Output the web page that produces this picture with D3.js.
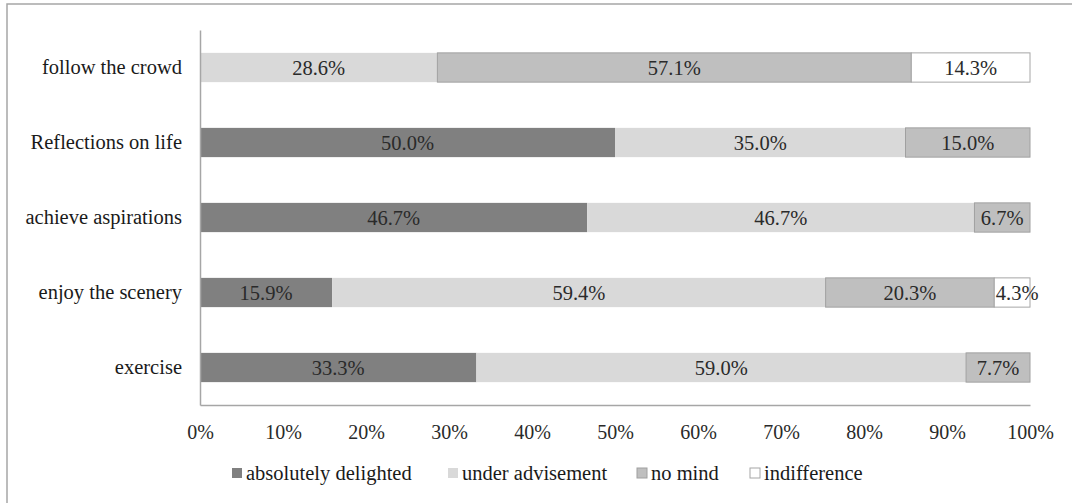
<!DOCTYPE html>
<html>
<head>
<meta charset="utf-8">
<script src="https://cdn.jsdelivr.net/npm/d3@7"></script>
<style>
  html, body { margin: 0; padding: 0; background: #fff; }
  svg { display: block; }
  svg text { font-family: "Liberation Serif", "Times New Roman", "DejaVu Serif", serif !important; }
</style>
</head>
<body>
<svg id="chart" width="1072" height="503"></svg>
<script>
// Categories from top to bottom
const categories = ["follow the crowd", "Reflections on life", "achieve aspirations", "enjoy the scenery", "exercise"];
// Response series (percent)
const seriesNames = ["absolutely delighted", "under advisement", "no mind", "indifference"];
const delighted   = [0,    50.0, 46.7, 15.9, 33.3];
const advisement  = [28.6, 35.0, 46.7, 59.4, 59.0];
const noMind      = [57.1, 15.0, 6.7,  20.3, 7.7];
const indifference= [14.3, 0,    0,    4.3,  0];
const tickValues  = [0, 0.1, 0.2, 0.3, 0.4, 0.5, 0.6, 0.7, 0.8, 0.9, 1.0];

const fills   = ["#808080", "#d9d9d9", "#bfbfbf", "#ffffff"];
const strokes = ["none", "none", "#a0a0a0", "#a6a6a6"];
const fontSize = 20.5;
const tickFontSize = 20;

const rows = categories.map((c, i) => ({
  category: c,
  "absolutely delighted": delighted[i],
  "under advisement": advisement[i],
  "no mind": noMind[i],
  "indifference": indifference[i]
}));

const svg = d3.select("#chart");

// outer frame
svg.append("rect")
  .attr("x", 7).attr("y", 4).attr("width", 1080).attr("height", 520)
  .attr("fill", "none").attr("stroke", "#a6a6a6").attr("stroke-width", 1.5);

const plotLeft = 200, plotRight = 1030, plotTop = 30, plotBottom = 405;

const x = d3.scaleLinear().domain([0, 1]).range([plotLeft, plotRight]);
const y = d3.scaleBand().domain(categories).range([plotTop, plotBottom])
  .paddingInner(0.61).paddingOuter(0.305);

const stacked = d3.stack().keys(seriesNames).offset(d3.stackOffsetExpand)(rows);

const layers = svg.append("g").selectAll("g")
  .data(stacked).join("g")
  .attr("fill", (d, i) => fills[i])
  .attr("stroke", (d, i) => strokes[i]);

layers.selectAll("rect")
  .data(d => d.filter(s => s.data[d.key] > 0))
  .join("rect")
  .attr("x", d => x(d[0]))
  .attr("y", d => y(d.data.category))
  .attr("width", d => x(d[1]) - x(d[0]))
  .attr("height", y.bandwidth())
  .attr("stroke-width", 1);

// value labels
const labels = svg.append("g").attr("font-size", fontSize).attr("fill", "#2a2a2a")
  .attr("text-anchor", "middle");
stacked.forEach(layer => {
  layer.filter(s => s.data[layer.key] > 0).forEach(s => {
    labels.append("text")
      .attr("x", (x(s[0]) + x(s[1])) / 2 + (s.data[layer.key] < 5 ? 5 : 0))
      .attr("y", y(s.data.category) + y.bandwidth() / 2)
      .attr("dy", "0.35em")
      .text(s.data[layer.key].toFixed(1) + "%");
  });
});

// axes
const xAxis = d3.axisBottom(x).tickValues(tickValues).tickSize(0).tickPadding(20)
  .tickFormat(d3.format(".0%"));
const gx = svg.append("g").attr("transform", `translate(0,${plotBottom})`).call(xAxis);
gx.select(".domain").attr("stroke", "#a6a6a6").attr("stroke-width", 1.5);
gx.selectAll("text").attr("font-size", tickFontSize).attr("fill", "#2a2a2a");

const yAxis = d3.axisLeft(y).tickSize(0).tickPadding(18);
const gy = svg.append("g").attr("transform", `translate(${plotLeft},0)`).call(yAxis);
gy.select(".domain").attr("stroke", "#a6a6a6").attr("stroke-width", 1.5);
gy.selectAll("text").attr("font-size", fontSize).attr("fill", "#1a1a1a");

// legend
const legendX = [232, 448, 637, 750];
const legend = svg.append("g").selectAll("g").data(seriesNames).join("g")
  .attr("transform", (d, i) => `translate(${legendX[i]},473)`);
legend.append("rect")
  .attr("x", 0).attr("y", -5).attr("width", 10).attr("height", 10)
  .attr("fill", (d, i) => fills[i])
  .attr("stroke", (d, i) => i >= 2 ? strokes[i] : "none");
legend.append("text")
  .attr("x", 14).attr("dy", "0.35em")
  .attr("font-size", fontSize).attr("fill", "#1a1a1a")
  .text(d => d);
</script>
</body>
</html>
